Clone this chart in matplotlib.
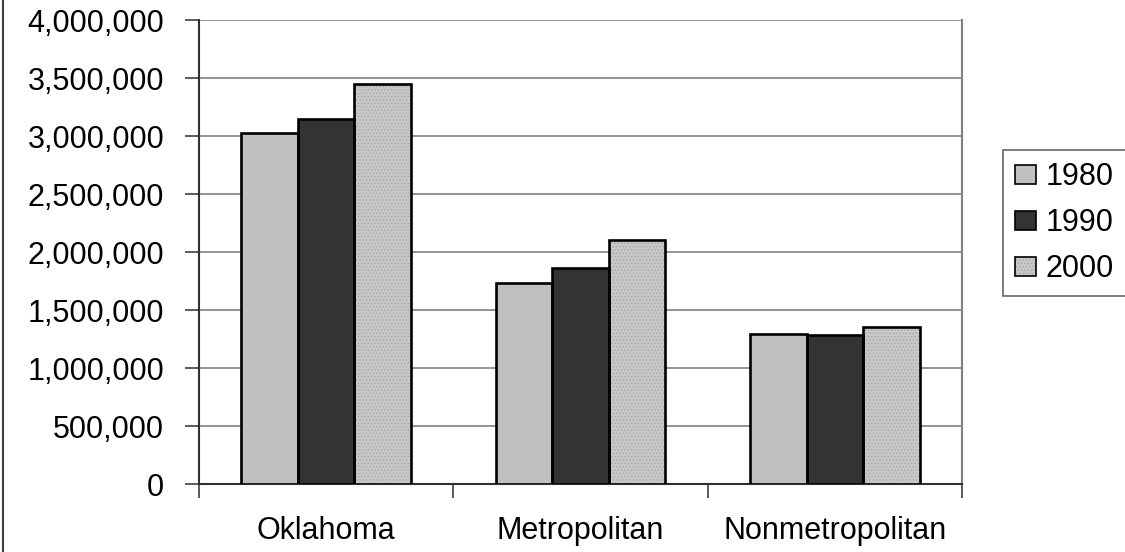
import matplotlib
matplotlib.use("Agg")
import matplotlib.pyplot as plt
from matplotlib.patches import Patch
from matplotlib.lines import Line2D
from matplotlib.ticker import FuncFormatter, FixedLocator
from matplotlib.legend_handler import HandlerTuple
import numpy as np

plt.rcParams['font.family'] = ['Liberation Sans', 'DejaVu Sans']
plt.rcParams['hatch.linewidth'] = 0.6
plt.rcParams['hatch.color'] = '#a8a8a8'

regions = ["Oklahoma", "Metropolitan", "Nonmetropolitan"]
years = ["1980", "1990", "2000"]
pop_1980 = [3025290, 1730000, 1297000]
pop_1990 = [3145585, 1863000, 1282000]
pop_2000 = [3450654, 2100000, 1350000]
series = [pop_1980, pop_1990, pop_2000]
fills = ['#c0c0c0', '#333333', '#c8c8c8']
hatches = [None, None, '.....']

fig = plt.figure(figsize=(11.25, 5.52), dpi=100)
ax = fig.add_axes([199 / 1125, 1 - 484 / 552, (962 - 199) / 1125, (484 - 20) / 552])

x = np.arange(len(regions))
width = 1 / 4.5
handles = []
for i, (vals, fc, h) in enumerate(zip(series, fills, hatches)):
    offs = x + (i - 1) * width
    ax.bar(offs, vals, width, color=fc, hatch=h, linewidth=0, zorder=3)
    ax.bar(offs, vals, width, fill=False, edgecolor='black', linewidth=1.9, zorder=4)
    face = Patch(facecolor=fc, hatch=h, linewidth=0)
    edge = Patch(fill=False, edgecolor='black', linewidth=1.2)
    handles.append((face, edge))

ax.set_xlim(-0.5, 2.5)
ax.set_ylim(0, 4000000)
ax.set_yticks(np.arange(0, 4000001, 500000))
ax.yaxis.set_major_formatter(FuncFormatter(lambda v, p: f"{int(v):,}"))
ax.grid(axis='y', color='#808080', linewidth=1.2, zorder=0)
ax.set_axisbelow(True)

ax.set_xticks(x)
ax.set_xticklabels(regions)
ax.xaxis.set_minor_locator(FixedLocator([-0.5, 0.5, 1.5, 2.5]))
ax.tick_params(axis='x', which='major', length=0, pad=23, labelsize=22)
ax.tick_params(axis='x', which='minor', length=10, width=1.2, color='#404040', direction='out')
ax.tick_params(axis='y', length=10, width=1.2, color='#404040', direction='out', pad=15, labelsize=22)

for side in ['left', 'bottom']:
    ax.spines[side].set_color('#303030')
    ax.spines[side].set_linewidth(1.5)
ax.spines['right'].set_color('#808080')
ax.spines['right'].set_linewidth(1.5)
ax.spines['top'].set_visible(False)

leg = fig.legend(handles, years, loc='upper left',
                 bbox_to_anchor=(1003 / 1125, 1 - 150 / 552),
                 handler_map={tuple: HandlerTuple(ndivide=1)},
                 fontsize=22, frameon=True, fancybox=False,
                 handlelength=0.68, handleheight=0.6, handletextpad=0.3,
                 labelspacing=0.52, borderpad=0.4, borderaxespad=0)
leg.get_frame().set_edgecolor('#404040')
leg.get_frame().set_linewidth(1.2)

fig.add_artist(Line2D([3 / 1125, 3 / 1125], [0, 1], transform=fig.transFigure,
                      color='#404040', linewidth=1.5))

fig.savefig("out.png", dpi=100)
